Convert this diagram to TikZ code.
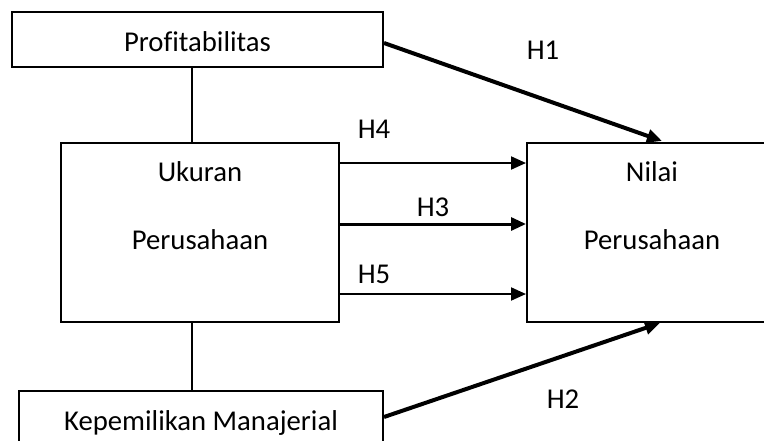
\documentclass[tikz,border=0pt]{standalone}
\usepackage{fontspec}
\setmainfont[Ligatures=NoCommon]{Carlito}
\usetikzlibrary{arrows.meta,calc}
\begin{document}
\begin{tikzpicture}[x=1pt,y=-1pt,
  box/.style={draw=black,line width=2pt,fill=white,inner sep=0pt},
  txt/.style={inner sep=0pt,font=\fontsize{28.7}{34}\selectfont},
  thin arrow/.style={line width=2pt,-{Triangle[length=15pt,width=13pt]}},
  mid arrow/.style={line width=3pt,-{Triangle[length=15pt,width=13pt]}},
  thick arrow/.style={line width=4pt,-{Triangle[length=15pt,width=13pt]}},
  link/.style={line width=2pt}]
\useasboundingbox (0,0) rectangle (764,440);
\clip (0,0) rectangle (764,440);
\fill[white] (0,0) rectangle (764,440);
% boxes
\node[box,minimum width=371pt,minimum height=55pt] (pr) at (197.5,39.5) {};
\node[txt] (prt) at (197.5,42) {Profitabilitas};
\node[box,minimum width=278pt,minimum height=179pt] (uk) at (200,232.5) {};
\node[txt] (uk1) at (200,172) {Ukuran};
\node[txt] (uk2) at (200,240) {Perusahaan};
\node[box,minimum width=250pt,minimum height=179pt] (nil) at (652,232.5) {};
\node[txt] (nil1) at (652,172) {Nilai};
\node[txt] (nil2) at (652,240) {Perusahaan};
\node[box,minimum width=364pt,minimum height=64pt] (km) at (201,423) {};
\node[txt] (kmt) at (201,423) {Kepemilikan Manajerial};
% vertical links
\draw[link] (pr.south -| 192,0) -- (uk.north -| 192,0);
\draw[link] (uk.south -| 192,0) -- (km.north -| 192,0);
% arrows
\coordinate (t1) at (662,141);
\coordinate (t2) at (660,323);
\draw[thick arrow] ($(pr.east)+(0,3.5)$) -- (t1);
\draw[thick arrow] ($(km.east)+(0,-6)$) -- (t2);
\draw[thin arrow] (uk.east |- 0,163) -- (nil.west |- 0,163);
\draw[mid arrow] (uk.east |- 0,224) -- (nil.west |- 0,224);
\draw[thin arrow] (uk.east |- 0,294) -- (nil.west |- 0,294);
% labels
\node[txt] (h1) at (543,50) {H1};
\node[txt] (h4) at (374,129) {H4};
\node[txt] (h3) at (433,207) {H3};
\node[txt] (h5) at (374,274) {H5};
\node[txt] (h2) at (563,399) {H2};
\end{tikzpicture}
\end{document}
